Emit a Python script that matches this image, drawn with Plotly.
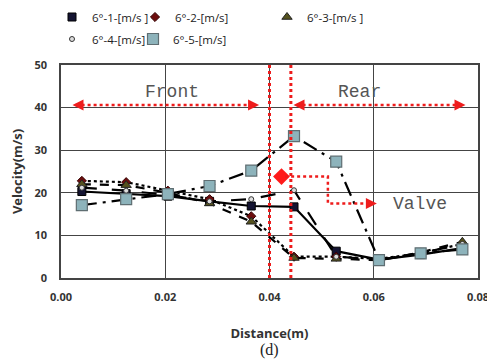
import plotly.graph_objects as go

distance = [0.004, 0.0125, 0.0205, 0.0285, 0.0365, 0.0447, 0.0528, 0.061, 0.069, 0.077]
s1 = [20.3, 19.8, 19.2, 18.0, 16.9, 16.7, 6.3, 4.3, 5.5, 7.0]
s2 = [22.8, 22.5, 20.5, 18.5, 14.5, 5.0, 5.0, 4.5, 5.8, 8.0]
s3 = [22.0, 21.8, 20.0, 17.5, 13.2, 4.7, 4.5, 4.2, 6.0, 8.5]
s4 = [21.2, 20.5, 19.5, 18.0, 18.5, 20.6, 5.0, 4.3, 5.8, 8.0]
s5 = [17.1, 18.5, 19.7, 21.6, 25.2, 33.3, 27.3, 4.2, 5.8, 6.7]
names = ["6°-1-[m/s ]", "6°-2-[m/s]", "6°-3-[m/s ]", "6°-4-[m/s]", "6°-5-[m/s]"]
x_ticks = [0.00, 0.02, 0.04, 0.06, 0.08]
y_ticks = [0, 10, 20, 30, 40, 50]
boundaries = [0.040, 0.0441]
valve_x = [0.0423]
valve_y = [23.8]

fig = go.Figure()
line_styles = [
    dict(color="black", width=2.2, dash="solid"),
    dict(color="black", width=2.2, dash="dot"),
    dict(color="black", width=2.2, dash="dash"),
    dict(color="black", width=2.2, dash="longdash"),
    dict(color="black", width=2.2, dash="longdashdot"),
]
marker_styles = [
    dict(symbol="square", size=8, color="#141432", line=dict(color="#000", width=1)),
    dict(symbol="diamond", size=7, color="#6e0d0d", line=dict(color="#300", width=1)),
    dict(symbol="triangle-up", size=9, color="#55521e", line=dict(color="#222", width=1)),
    dict(symbol="circle", size=5, color="#dddddd", line=dict(color="#333", width=1)),
    dict(symbol="square", size=11, color="#8db3bb", line=dict(color="#5f6e72", width=1.2)),
]
series = [s1, s2, s3, s4, s5]
legend_ids = ["legend", "legend2", "legend3", "legend4", "legend5"]
for i, ys in enumerate(series):
    fig.add_trace(go.Scatter(x=distance, y=ys, mode="lines", line=line_styles[i],
                             showlegend=False, legendgroup=f"g{i}", hoverinfo="skip"))
for i, ys in enumerate(series):
    fig.add_trace(go.Scatter(x=distance, y=ys, mode="markers", name=names[i],
                             marker=marker_styles[i], legend=legend_ids[i], legendgroup=f"g{i}"))

fig.add_trace(go.Scatter(x=valve_x, y=valve_y, mode="markers", showlegend=False,
                         marker=dict(symbol="diamond", size=13, color="#ff1a1a")))

red = "#ee1c1c"
shapes = []
for b in boundaries:
    shapes.append(dict(type="line", xref="x", yref="paper", x0=b, x1=b, y0=0, y1=1,
                       line=dict(color=red, width=3, dash="dot")))
shapes.append(dict(type="line", x0=0.0028, x1=0.0374, y0=40.6, y1=40.6,
                   line=dict(color=red, width=2.5, dash="dot")))
shapes.append(dict(type="line", x0=0.0452, x1=0.0770, y0=40.6, y1=40.6,
                   line=dict(color=red, width=2.5, dash="dot")))
shapes.append(dict(type="path", path="M 0.0430,23.8 L 0.0512,23.8 L 0.0512,17.5 L 0.0598,17.5",
                   line=dict(color=red, width=2.5, dash="dot")))

ann = []
def arrowhead(x, y, ax):
    ann.append(dict(x=x, y=y, ax=ax, ay=0, xref="x", yref="y", axref="pixel", text="",
                    showarrow=True, arrowhead=2, arrowsize=1.1, arrowwidth=2, arrowcolor=red))
arrowhead(0.0022, 40.6, 10)
arrowhead(0.0380, 40.6, -10)
arrowhead(0.0446, 40.6, 10)
arrowhead(0.0776, 40.6, -10)
arrowhead(0.0606, 17.5, -10)

txtfont = dict(family="Liberation Mono", size=18, color="#555")
ann.append(dict(x=0.0213, y=43.6, text="Front", showarrow=False, font=txtfont))
ann.append(dict(x=0.0573, y=43.6, text="Rear", showarrow=False, font=txtfont))
ann.append(dict(x=0.0688, y=17.3, text="Valve", showarrow=False, font=txtfont))
ann.append(dict(x=0.5, y=(278 - 350) / 213, xref="paper", yref="paper", text="(d)", showarrow=False,
                yanchor="middle", font=dict(family="Liberation Serif", size=16, color="#222")))

legfont = dict(family="Open Sans", size=11.5, color="#222")
# text start x (px), row centre y (px) in reference page coordinates
leg_pos = [(92, 17), (175, 17), (307, 17), (92, 39), (173, 39)]
PL, PR, PB = 61, 478, 278
legends = {}
for lid, (px, py) in zip(legend_ids, leg_pos):
    legends[lid] = dict(x=(px - 40 - PL) / (PR - PL), y=(PB - py) / 213, xanchor="left", yanchor="middle",
                        orientation="h", font=legfont, bgcolor="rgba(0,0,0,0)",
                        itemwidth=30, tracegroupgap=0)

axfont = dict(family="Open Sans", size=11, color="#333", weight="bold")
titlefont = dict(family="Open Sans", size=13, color="#333", weight="bold")
# page body has an 8px default margin, so the figure is drawn 8px smaller and offset
fig.update_layout(
    width=487, height=356,
    margin=dict(l=53, r=17, t=57, b=86, autoexpand=False),
    paper_bgcolor="white", plot_bgcolor="white",
    shapes=shapes, annotations=ann,
    xaxis=dict(range=[0, 0.08], tickvals=x_ticks, ticktext=[f"{v:.2f}" for v in x_ticks],
               showgrid=True, gridcolor="#444", gridwidth=1.4, zeroline=False,
               showline=True, linecolor="#444", linewidth=1.6, mirror=True,
               tickfont=axfont, ticks="", ticklabelstandoff=8,
               title=dict(text="Distance(m)", font=titlefont, standoff=26)),
    yaxis=dict(range=[0, 50], tickvals=y_ticks, showgrid=True, gridcolor="#444", gridwidth=1.4,
               zeroline=False, showline=True, linecolor="#444", linewidth=1.6, mirror=True,
               tickfont=axfont, ticks="", ticklabelstandoff=10,
               title=dict(text="Velocity(m/s)", font=titlefont, standoff=11)),
    **legends,
)
fig.write_html("out.html")
